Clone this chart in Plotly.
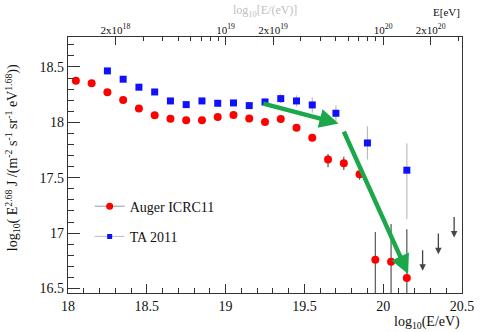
import numpy as np
import plotly.graph_objects as go

# Auger ICRC11 data
auger_x = [18.05, 18.15, 18.25, 18.35, 18.45, 18.55, 18.65, 18.75, 18.85, 18.95, 19.05,
           19.15, 19.25, 19.35, 19.45, 19.55, 19.65, 19.75, 19.85, 19.95, 20.05, 20.15]
auger_y = [18.376, 18.353, 18.272, 18.202, 18.124, 18.064, 18.033, 18.019, 18.019, 18.049, 18.067,
           18.035, 18.004, 18.031, 17.950, 17.862, 17.665, 17.630, 17.532, 16.760, 16.743, 16.596]
auger_err_up = [0, 0, 0, 0, 0, 0, 0, 0, 0, 0, 0,
                0, 0, 0.01, 0.015, 0.02, 0.05, 0.06, 0.08, 0.25, 0.34, 0.44]
auger_err_dn = [0, 0, 0, 0, 0, 0, 0, 0, 0, 0, 0,
                0, 0, 0.01, 0.015, 0.02, 0.07, 0.06, 0.05, 0.6, 0.6, 0.6]

# TA 2011 data
ta_x = [18.25, 18.35, 18.45, 18.55, 18.65, 18.75, 18.85, 18.95, 19.05, 19.15, 19.25,
        19.35, 19.45, 19.55, 19.70, 19.90, 20.15]
ta_y = [18.464, 18.389, 18.317, 18.274, 18.193, 18.160, 18.193, 18.172, 18.175, 18.151, 18.184,
        18.214, 18.193, 18.157, 18.082, 17.814, 17.568]
ta_err_up = [0, 0, 0, 0, 0, 0, 0, 0, 0, 0.01, 0.015, 0.04, 0.05, 0.07, 0.07, 0.15, 0.24]
ta_err_dn = [0, 0, 0, 0, 0, 0, 0, 0, 0, 0.01, 0.015, 0.04, 0.05, 0.07, 0.07, 0.15, 0.44]

# upper limits
ul_x = [20.25, 20.35, 20.45]
ul_y = [16.86, 17.01, 17.16]
ul_len = 0.2

# green annotation arrows (start x, start y, end x, end y)
green_x0 = [19.23, 19.746]
green_y0 = [18.172, 17.93]
green_x1 = [19.717, 20.158]
green_y1 = [17.99, 16.632]

# top axis (energy in eV)
top_major_vals = [2e18, 1e19, 2e19, 1e20, 2e20]
top_major_text = ["2x10<sup>18</sup>", "10<sup>19</sup>", "2x10<sup>19</sup>",
                  "10<sup>20</sup>", "2x10<sup>20</sup>"]
top_minor_vals = [3e18, 4e18, 5e18, 6e18, 7e18, 8e18, 9e18,
                  3e19, 4e19, 5e19, 6e19, 7e19, 8e19, 9e19, 3e20]

FONT = "Liberation Serif"

fig = go.Figure()

fig.add_trace(go.Scatter(
    x=auger_x, y=auger_y, mode="markers",
    marker=dict(color="#ff0000", size=8, symbol="circle"),
    error_y=dict(type="data", symmetric=False, array=auger_err_up, arrayminus=auger_err_dn,
                 color="#555555", thickness=1.2, width=0),
    showlegend=False))

fig.add_trace(go.Scatter(
    x=ta_x, y=ta_y, mode="markers",
    marker=dict(color="#1010ff", size=7, symbol="square"),
    error_y=dict(type="data", symmetric=False, array=ta_err_up, arrayminus=ta_err_dn,
                 color="#bbbbbb", thickness=1.2, width=0),
    showlegend=False))

# legend entries
fig.add_trace(go.Scatter(x=[None], y=[None], mode="lines+markers", name="Auger ICRC11",
                         legendgroup="a",
                         line=dict(color="#999999", width=1),
                         marker=dict(color="#ff0000", size=7, symbol="circle")))
fig.add_trace(go.Scatter(x=[None], y=[None], mode="lines+markers", name="TA 2011",
                         legendgroup="b",
                         line=dict(color="#bbbbbb", width=1),
                         marker=dict(color="#1010ff", size=5, symbol="square")))

# dummy trace for top axis
fig.add_trace(go.Scatter(x=[None], y=[None], xaxis="x2", showlegend=False))

annotations = []
for x, y in zip(ul_x, ul_y):
    annotations.append(dict(x=x, y=y - ul_len, ax=x, ay=y, xref="x", yref="y",
                            axref="x", ayref="y", showarrow=True, arrowhead=2,
                            arrowsize=1, arrowwidth=1.3, arrowcolor="#444444", text=""))
for x0, y0, x1, y1 in zip(green_x0, green_y0, green_x1, green_y1):
    annotations.append(dict(x=x1, y=y1, ax=x0, ay=y0, xref="x", yref="y",
                            axref="x", ayref="y", showarrow=True, arrowhead=2,
                            arrowsize=0.85, arrowwidth=4.5, arrowcolor="#1aa84b", text=""))

# y axis title
annotations.append(dict(
    text="log<sub>10</sub>( E<sup>2.68</sup> J /(m<sup>-2</sup> s<sup>-1</sup> sr<sup>-1</sup> eV<sup>1.68</sup>))",
    xref="paper", yref="paper", x=-0.14, y=0.53, textangle=-90, showarrow=False,
    font=dict(family=FONT, size=14, color="#111111"), xanchor="center", yanchor="middle"))
# x axis title
annotations.append(dict(text="log<sub>10</sub>(E/eV)", xref="paper", yref="paper",
                        x=1.0, y=-0.075, xanchor="right", yanchor="top", showarrow=False,
                        font=dict(family=FONT, size=14, color="#111111")))
# top axis title
annotations.append(dict(text="E[eV]", xref="paper", yref="paper",
                        x=1.0, y=1.065, xanchor="right", yanchor="bottom", showarrow=False,
                        font=dict(family=FONT, size=11, color="#111111")))
# faint title at top
annotations.append(dict(text="log<sub>10</sub>[E/(eV)]", xref="paper", yref="paper",
                        x=0.5, y=1.142, xanchor="center", yanchor="top", showarrow=False,
                        font=dict(family=FONT, size=12, color="#c0c0c0")))

fig.update_layout(
    width=486, height=332,
    margin=dict(l=68, r=16, t=37, b=39),
    paper_bgcolor="white", plot_bgcolor="white",
    font=dict(family=FONT, size=13, color="#111111"),
    showlegend=True,
    legend=dict(x=0.055, y=0.40, xanchor="left", yanchor="top", bgcolor="rgba(0,0,0,0)",
                font=dict(family=FONT, size=14), itemwidth=30, tracegroupgap=9),
    xaxis=dict(range=[18, 20.5], tickmode="array", tickvals=[18, 18.5, 19, 19.5, 20, 20.5],
               ticktext=["18", "18.5", "19", "19.5", "20", "20.5"],
               ticks="inside", ticklen=9, tickcolor="#333333", showgrid=False, zeroline=False,
               showline=True, linecolor="#333333", linewidth=1.2, mirror=True,
               minor=dict(tickmode="array", tickvals=[round(18 + 0.1 * i, 2) for i in range(26)],
                          ticks="inside", ticklen=5, tickcolor="#333333"),
               tickfont=dict(family=FONT, size=14)),
    xaxis2=dict(range=[18, 20.5], overlaying="x", side="top", tickmode="array",
                tickvals=list(np.log10(top_major_vals)), ticktext=top_major_text,
                ticks="inside", ticklen=8, tickcolor="#333333", showgrid=False, zeroline=False,
                showline=False,
                minor=dict(tickmode="array", tickvals=list(np.log10(top_minor_vals)),
                           ticks="inside", ticklen=4, tickcolor="#333333"),
                tickfont=dict(family=FONT, size=11)),
    yaxis=dict(range=[16.46, 18.77], tickmode="array", tickvals=[16.5, 17, 17.5, 18, 18.5],
               ticktext=["16.5", "17", "17.5", "18", "18.5"],
               ticks="inside", ticklen=12, tickcolor="#333333", showgrid=False, zeroline=False,
               showline=True, linecolor="#333333", linewidth=1.2, mirror=True,
               minor=dict(tickmode="array", tickvals=[round(16.5 + 0.1 * i, 2) for i in range(23)],
                          ticks="inside", ticklen=6, tickcolor="#333333"),
               tickfont=dict(family=FONT, size=14)),
    annotations=annotations,
)

fig.write_html("out.html")
